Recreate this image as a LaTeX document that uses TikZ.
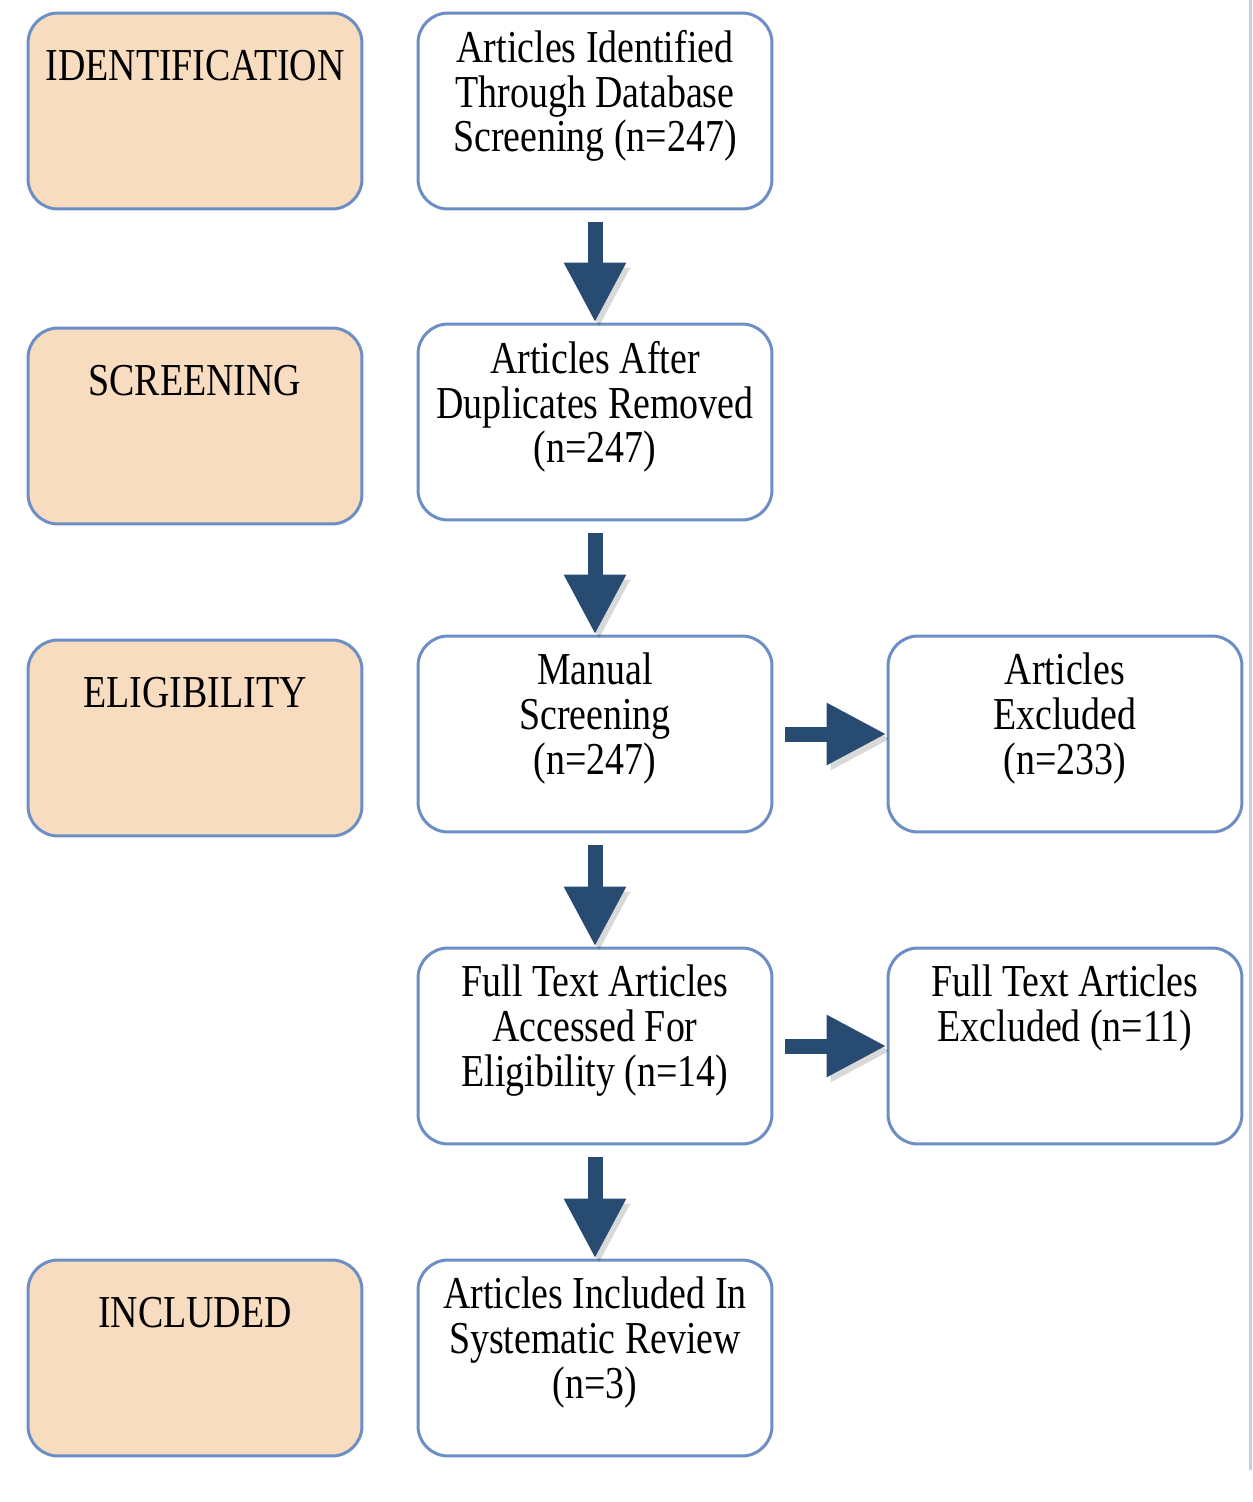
\documentclass[tikz,border=0pt]{standalone}
\usepackage{fontspec}
\setmainfont[FakeStretch=0.83]{Liberation Serif}
\usetikzlibrary{arrows.meta,positioning}

\definecolor{boxblue}{HTML}{6C8EC4}
\definecolor{peach}{HTML}{F8DCC0}
\definecolor{arrowblue}{HTML}{284B72}
\definecolor{edgeblue}{HTML}{BCD0F0}

\begin{document}
\begin{tikzpicture}[x=0.02cm, y=-0.02cm,
        stage/.style = {draw=boxblue, line width=0.06cm, rounded corners=0.6cm, fill=peach, minimum width=6.68cm, minimum height=3.92cm},
        stepbox/.style = {draw=boxblue, line width=0.06cm, rounded corners=0.6cm, fill=white, minimum width=7.08cm, minimum height=3.92cm},
        boxtext/.style = {font = {\fontsize{26}{25.6}\selectfont}, black, align=center, inner sep=0pt},
        flow/.style = {draw=arrowblue, line width=0.3cm, -{Triangle[length=1.2cm, width=1.16cm]}, shorten <=0.24cm,
            preaction={draw=black, opacity=0.15, transform canvas={shift={(0.08cm,-0.1cm)}}}}]

        \useasboundingbox (0,0) rectangle (1252,1502);
        \draw[edgeblue, line width=0.06cm] (1250,0) -- (1250,1470);

        % stages
        \node[stage] (ident) at (195, 111) {};
        \node[stage] (screen) at (195, 426) {};
        \node[stage] (elig) at (195, 738) {};
        \node[stage] (incl) at (195, 1358) {};

        \node[boxtext, below=0.76cm of ident.north] (ident-txt) {IDENTIFICATION};
        \node[boxtext, below=0.76cm of screen.north] (screen-txt) {SCREENING};
        \node[boxtext, below=0.76cm of elig.north] (elig-txt) {ELIGIBILITY};
        \node[boxtext, below=0.76cm of incl.north] (incl-txt) {INCLUDED};

        % flow boxes
        \node[stepbox] (found) at (595, 111) {};
        \node[stepbox] (dedup) at (595, 422) {};
        \node[stepbox] (manual) at (595, 734) {};
        \node[stepbox] (fulltext) at (595, 1046) {};
        \node[stepbox] (included) at (595, 1358) {};
        \node[stepbox] (excl) at (1065, 734) {};
        \node[stepbox] (ftexcl) at (1065, 1046) {};

        \node[boxtext, below=0.36cm of found.north] (found-txt) {Articles Identified\\Through Database\\Screening (n=247)};
        \node[boxtext, below=0.36cm of dedup.north] (dedup-txt) {Articles After\\Duplicates Removed\\(n=247)};
        \node[boxtext, below=0.36cm of manual.north] (manual-txt) {Manual\\Screening\\(n=247)};
        \node[boxtext, below=0.36cm of fulltext.north] (fulltext-txt) {Full Text Articles\\Accessed For\\Eligibility (n=14)};
        \node[boxtext, below=0.36cm of included.north] (included-txt) {Articles Included In\\Systematic Review\\(n=3)};
        \node[boxtext, below=0.36cm of excl.north] (excl-txt) {Articles\\Excluded\\(n=233)};
        \node[boxtext, below=0.36cm of ftexcl.north] (ftexcl-txt) {Full Text Articles\\Excluded (n=11)};

        % arrows
        \draw[flow] (found) -- (dedup);
        \draw[flow] (dedup) -- (manual);
        \draw[flow] (manual) -- (fulltext);
        \draw[flow] (fulltext) -- (included);
        \draw[flow] (manual) -- (excl);
        \draw[flow] (fulltext) -- (ftexcl);
    \end{tikzpicture}
\end{document}
